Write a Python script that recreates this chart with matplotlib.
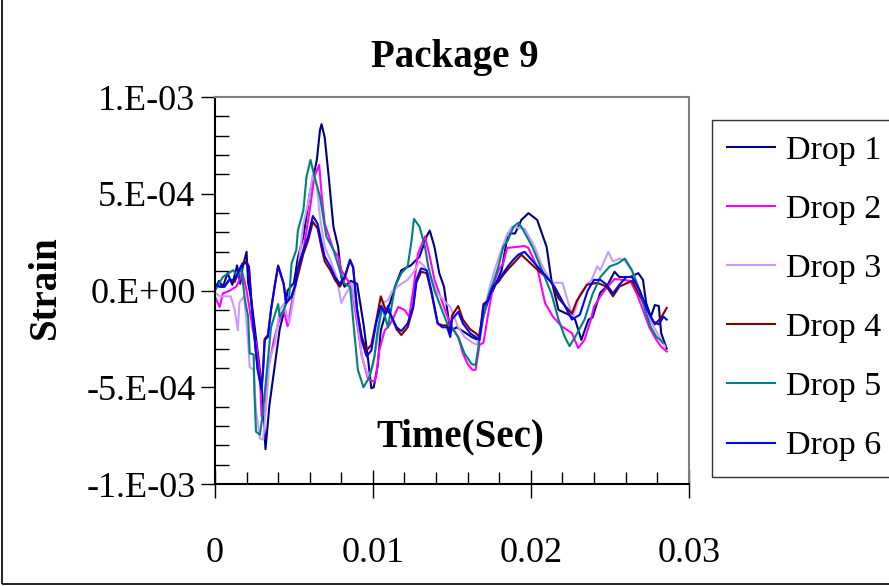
import numpy as np
import matplotlib
matplotlib.use('Agg')
import matplotlib.pyplot as plt
from matplotlib.ticker import MultipleLocator, FuncFormatter
from matplotlib.patches import Rectangle

# Time in milliseconds, strain in units of 1e-4
drop1_t = [0.0, 0.25, 0.5, 0.8, 1.1, 1.4, 1.6, 1.75, 2.0, 2.1, 2.3, 2.5, 2.8, 3.0, 3.2, 3.45, 3.8, 4.1, 4.4, 4.6,
           5.0, 5.25, 5.6, 6.0, 6.45, 6.65, 6.75, 6.95, 7.2, 7.5, 7.8, 8.0, 8.2, 8.6, 9.0, 9.4, 9.7, 9.9, 10.05, 10.3,
           10.5, 10.8, 11.1, 11.4, 11.8, 12.4, 12.95, 13.4, 13.6, 13.9, 14.2, 14.5, 14.9, 15.3, 15.7, 16.25, 16.65, 17.0, 17.3, 17.6,
           18.15, 18.55, 19.0, 19.4, 19.85, 20.4, 21.0, 21.3, 21.75, 22.4, 22.8, 23.2, 23.65, 23.9, 24.4, 24.8, 25.3, 25.6, 26.3, 26.8,
           27.1, 27.3, 27.6, 27.85, 28.1, 28.25, 28.6]
drop1_v = [0.0, 0.5, 0.2, 0.9, 0.3, 1.3, 0.35, 1.2, 2.0, 0.4, -0.5, -1.8, -3.8, -5.4, -8.2, -5.9, -3.8, -2.0, -1.0, 0.0,
           0.4, 1.7, 2.8, 5.0, 6.75, 8.3, 8.6, 7.9, 5.9, 3.3, 2.25, 0.7, 0.2, 0.5, 0.35, -1.7, -3.6, -5.05, -5.0, -3.9,
           -2.05, -1.2, -0.6, 0.2, 1.05, 1.3, 1.75, 2.8, 3.1, 2.25, 0.9, 0.2, -2.1, -1.9, -2.1, -2.4, -2.55, -1.3, -0.5, 0.0,
           1.05, 2.95, 2.95, 3.65, 4.0, 3.65, 2.25, 0.55, -1.0, -1.25, -1.5, -2.55, -1.5, -1.4, -0.1, 0.2, 0.97, 0.7, 0.7, 0.9,
           0.55, -0.65, -1.35, -0.75, -0.8, -2.2, -3.0]

drop2_t = [0.0, 0.1, 0.3, 0.5, 0.95, 1.35, 1.75, 2.0, 2.2, 2.4, 2.6, 2.85, 2.95, 3.2, 3.35, 3.7, 4.0, 4.35, 4.6, 4.85,
           5.2, 5.6, 6.0, 6.3, 6.6, 6.75, 6.95, 7.3, 7.5, 7.8, 8.0, 8.35, 8.65, 9.0, 9.3, 9.7, 10.1, 10.2, 10.4, 10.75,
           10.95, 11.25, 11.6, 12.0, 12.3, 12.55, 12.85, 13.2, 13.3, 13.6, 13.9, 14.2, 14.65, 15.0, 15.4, 15.7, 16.0, 16.3, 16.5, 16.75,
           17.0, 17.3, 17.6, 17.95, 18.25, 18.5, 19.6, 19.85, 20.4, 20.9, 21.4, 21.95, 22.6, 23.0, 23.4, 23.8, 24.0, 24.4, 24.8, 25.3,
           26.3, 26.7, 27.1, 27.5, 27.95, 28.25, 28.6]
drop2_v = [-0.3, -0.5, -0.85, -0.15, 0.0, 0.2, 0.9, 0.0, -1.0, -2.05, -2.7, -4.45, -6.5, -6.2, -4.1, -2.7, -1.7, -1.0, -1.85, -0.7,
           0.7, 2.1, 4.15, 5.9, 6.5, 5.0, 3.45, 2.6, 2.1, 1.75, 1.05, 0.6, 0.2, -1.7, -3.4, -4.6, -4.7, -4.45, -3.1, -2.05,
           -1.9, -1.5, -0.85, -1.0, -1.35, 0.0, 1.9, 2.6, 2.8, 1.75, 0.55, -0.15, -1.2, -1.9, -2.4, -3.25, -3.8, -4.1, -4.1, -2.8,
           -2.7, -1.2, 0.2, 1.05, 1.4, 2.2, 2.3, 2.2, 1.2, -0.65, -1.35, -1.85, -2.2, -2.97, -2.55, -1.5, -0.84, -0.3, 0.15, 0.6,
           0.5, -0.15, -1.0, -1.9, -2.55, -2.9, -3.15]

drop3_t = [0.0, 0.3, 0.7, 1.0, 1.25, 1.45, 1.55, 1.85, 2.1, 2.2, 2.45, 2.6, 2.85, 3.05, 3.3, 3.45, 3.8, 4.1, 4.35, 4.7,
           5.0, 5.25, 5.6, 5.9, 6.2, 6.45, 6.65, 6.95, 7.3, 7.7, 8.0, 8.2, 8.65, 9.0, 9.3, 9.7, 10.0, 10.3, 10.6, 10.95,
           11.25, 11.8, 12.2, 12.65, 12.95, 13.25, 13.7, 14.1, 14.65, 14.9, 15.4, 15.8, 16.3, 16.6, 17.0, 17.4, 17.7, 18.05, 18.45, 18.8,
           19.6, 20.25, 20.7, 21.3, 22.0, 22.45, 22.7, 23.1, 23.6, 23.85, 24.2, 24.4, 24.9, 25.2, 25.6, 25.95, 26.4, 26.8, 27.2, 27.6,
           28.0, 28.5]
drop3_v = [-0.1, -0.3, -0.3, -0.3, -1.0, -2.05, -0.6, -0.3, -2.7, -3.95, -4.1, -6.2, -7.65, -7.7, -5.3, -3.6, -2.7, -1.0, -0.7, -1.7,
           -0.3, 1.05, 3.45, 4.5, 6.0, 5.4, 3.8, 2.25, 1.6, 0.7, -0.65, -0.3, 0.35, -1.35, -3.4, -4.45, -3.9, -2.4, -0.65, -0.5,
           0.0, 0.35, 0.55, 1.05, 1.5, 1.25, 0.55, -0.15, -0.65, -0.85, -1.9, -2.4, -2.7, -2.8, -1.3, 0.2, 1.05, 1.9, 2.8, 3.3,
           3.2, 2.25, 1.3, 0.4, 0.4, -0.85, -1.3, -0.2, 0.35, 0.55, 1.25, 1.05, 2.0, 1.5, 1.65, 1.55, 1.0, 0.2, -0.9, -1.6,
           -2.2, -2.9]

drop4_t = [0.0, 0.3, 0.6, 0.9, 1.25, 1.45, 1.75, 2.0, 2.15, 2.3, 2.5, 2.7, 2.95, 3.05, 3.15, 3.35, 3.55, 3.8, 4.0, 4.35,
           4.5, 4.85, 5.1, 5.6, 5.9, 6.2, 6.5, 6.75, 6.95, 7.3, 7.6, 7.9, 8.2, 8.55, 8.75, 9.0, 9.3, 9.6, 9.9, 10.2,
           10.5, 10.8, 11.1, 11.5, 11.8, 12.2, 12.55, 12.75, 13.05, 13.4, 13.7, 14.1, 14.4, 14.7, 14.9, 15.0, 15.4, 15.7, 16.15, 16.5,
           16.75, 17.0, 17.3, 17.6, 17.95, 18.25, 18.55, 18.9, 19.4, 20.25, 21.3, 21.75, 22.6, 22.9, 23.55, 24.2, 24.8, 25.2, 25.6, 26.4,
           27.3, 27.85, 28.25, 28.6]
drop4_v = [0.3, 0.2, 0.2, 0.55, 0.45, 0.9, 1.4, 1.5, 1.2, -0.5, -2.4, -4.0, -5.0, -4.0, -2.5, -2.3, -1.0, 0.3, 1.3, 0.35,
           -0.6, -0.35, 0.3, 1.9, 2.6, 3.55, 3.2, 2.2, 1.5, 1.05, 0.55, 0.2, 0.6, 1.6, 1.2, -1.0, -2.4, -3.1, -2.8, -1.6,
           -0.3, -1.0, -1.2, -2.0, -2.3, -1.9, -0.9, 0.4, 0.97, 0.9, -0.1, -1.7, -1.8, -1.8, -2.2, -1.3, -0.8, -1.5, -2.0, -2.2,
           -2.4, -0.7, -0.5, 0.2, 0.45, 0.8, 1.1, 1.4, 1.85, 1.2, 0.45, -0.4, -1.2, -0.55, 0.3, 0.4, 0.2, -0.3, 0.2, 0.5,
           -0.9, -1.75, -1.4, -0.9]

drop5_t = [0.0, 0.5, 1.15, 1.45, 1.65, 1.9, 2.1, 2.2, 2.45, 2.5, 2.6, 2.85, 3.05, 3.25, 3.55, 4.0, 4.1, 4.35, 4.7, 4.85,
           5.15, 5.25, 5.6, 5.8, 6.05, 6.3, 6.65, 7.05, 7.5, 7.9, 8.2, 8.55, 8.85, 9.05, 9.4, 9.8, 10.1, 10.3, 10.6, 10.95,
           11.4, 11.8, 12.2, 12.45, 12.6, 12.95, 13.3, 13.5, 13.9, 14.3, 14.7, 15.0, 15.4, 15.8, 16.25, 16.5, 16.75, 17.0, 17.3, 17.6,
           17.95, 18.25, 18.55, 18.9, 19.2, 19.4, 20.1, 20.7, 21.3, 21.75, 22.15, 22.45, 22.8, 23.4, 23.9, 24.4, 25.0, 25.5, 25.95, 26.4,
           26.7, 27.0, 27.3, 27.6, 27.95, 28.2, 28.35]
drop5_v = [0.0, 0.7, 1.05, 0.7, 1.25, -0.5, -1.35, -3.25, -3.3, -5.3, -7.3, -7.45, -6.2, -4.45, -1.9, -0.7, -1.35, -1.0, -0.3, 1.4,
           2.1, 3.1, 4.15, 5.9, 6.75, 5.9, 4.85, 2.8, 2.1, 1.05, 0.35, 0.2, -2.4, -4.1, -5.0, -4.45, -3.4, -2.05, -0.85, -1.9,
           0.2, 0.9, 1.25, 2.6, 3.7, 3.3, 2.25, 1.25, 0.0, -0.85, -1.7, -1.9, -2.4, -3.25, -3.8, -3.85, -2.55, -1.35, -0.3, 0.35,
           1.25, 2.25, 2.6, 3.3, 3.5, 3.3, 2.25, 1.05, -0.15, -1.5, -2.4, -2.87, -2.4, -1.5, -0.2, 0.7, 1.25, 1.4, 1.65, 1.05,
           0.4, -0.3, -1.2, -1.9, -2.4, -2.55, -2.7]

drop6_t = [0.0, 0.3, 0.6, 0.9, 1.25, 1.45, 1.75, 2.0, 2.15, 2.3, 2.5, 2.7, 2.95, 3.05, 3.15, 3.35, 3.55, 3.8, 4.0, 4.35,
           4.5, 4.85, 5.1, 5.2, 5.6, 5.9, 6.2, 6.5, 6.75, 6.95, 7.3, 7.6, 7.9, 8.2, 8.55, 8.75, 9.0, 9.3, 9.6, 9.9,
           10.2, 10.5, 10.8, 10.95, 11.1, 11.5, 11.8, 12.2, 12.55, 12.75, 13.05, 13.4, 13.7, 14.1, 14.4, 14.7, 14.9, 15.0, 15.4, 15.7,
           16.15, 16.5, 16.75, 17.0, 17.3, 17.6, 17.95, 18.25, 18.55, 18.9, 19.2, 19.6, 20.25, 20.9, 21.5, 21.9, 22.6, 23.1, 23.6, 24.0,
           24.4, 24.8, 25.2, 25.6, 26.05, 26.4, 26.9, 27.3, 27.75, 28.1, 28.4, 28.6]
drop6_v = [0.35, 0.2, 0.2, 0.55, 0.55, 0.9, 1.4, 1.4, 1.25, -0.5, -2.4, -4.1, -5.15, -4.1, -2.55, -2.4, -1.0, 0.35, 1.25, 0.35,
           -0.65, -0.3, 0.35, 1.05, 2.1, 2.8, 3.85, 3.45, 2.45, 1.75, 1.25, 0.7, 0.35, 0.7, 1.55, 1.2, -1.0, -2.6, -3.4, -3.1,
           -1.7, -0.8, -1.2, -0.8, -1.2, -1.9, -2.1, -1.7, -0.8, 0.55, 1.15, 1.05, 0.0, -1.7, -1.9, -1.9, -2.4, -1.5, -1.1, -1.7,
           -2.2, -2.4, -2.55, -0.8, -0.5, 0.2, 0.55, 0.9, 1.25, 1.6, 1.85, 2.0, 1.4, 0.8, 0.2, -0.4, -1.5, -1.25, 0.0, 0.55,
           0.55, 0.3, -0.15, 0.3, 0.7, 0.7, 0.0, -0.85, -1.6, -1.75, -1.35, -1.5]

series = [
    ('Drop 1', drop1_t, drop1_v, '#000080'),
    ('Drop 2', drop2_t, drop2_v, '#FF00FF'),
    ('Drop 3', drop3_t, drop3_v, '#CC99FF'),
    ('Drop 4', drop4_t, drop4_v, '#800000'),
    ('Drop 5', drop5_t, drop5_v, '#008080'),
    ('Drop 6', drop6_t, drop6_v, '#0000FF'),
]

plt.rcParams['font.family'] = 'Liberation Serif'

fig = plt.figure(figsize=(8.89, 5.86), dpi=100)
ax = fig.add_axes([0.2418, 0.174, 0.533, 0.6604])

for label, t, v, color in series:
    ax.plot(np.array(t) * 1e-3, np.array(v) * 1e-4, color=color, linewidth=1.5, label=label)

ax.set_xlim(0, 0.03)
ax.set_ylim(-1e-3, 1e-3)

# Excel-like ticks
ax.xaxis.set_major_locator(MultipleLocator(0.01))
ax.xaxis.set_minor_locator(MultipleLocator(0.002))
ax.yaxis.set_major_locator(MultipleLocator(5e-4))
ax.yaxis.set_minor_locator(MultipleLocator(1e-4))
ax.xaxis.set_major_formatter(FuncFormatter(lambda x, pos: '0' if abs(x) < 1e-12 else f'{x:g}'))
ax.yaxis.set_major_formatter(FuncFormatter(lambda y, pos: format(0.0 if abs(y) < 1e-12 else y, '#.0E')))

ax.tick_params(axis='x', which='major', direction='inout', length=20, width=1, pad=28, labelsize=26)
ax.tick_params(axis='x', which='minor', direction='in', length=9, width=1)
ax.tick_params(axis='y', which='major', direction='out', length=10, width=1, pad=4, labelsize=26)
ax.tick_params(axis='y', which='minor', direction='in', length=10, width=1)

ax.spines['left'].set_linewidth(1.5)
ax.spines['bottom'].set_linewidth(1.5)
ax.spines['top'].set_color('#808080')
ax.spines['right'].set_color('#808080')
ax.spines['top'].set_linewidth(1.5)
ax.spines['right'].set_linewidth(1.5)

ax.text(0.517, 0.121, 'Time(Sec)', transform=ax.transAxes, ha='center', va='center',
        fontsize=28, fontweight='bold')
fig.text(45 / 889, 1 - 287 / 586, 'Strain', rotation=90, ha='center', va='center',
         fontsize=28, fontweight='bold')
fig.text(455 / 889, 1 - 57 / 586, 'Package 9', ha='center', va='center',
         fontsize=28, fontweight='bold')

leg = fig.legend(loc='upper left', bbox_to_anchor=(712 / 889, 1 - 120 / 586), fontsize=24.5,
                 frameon=True, fancybox=False, edgecolor='black', handlelength=1.4,
                 handletextpad=0.32, labelspacing=0.83, borderpad=0.45, borderaxespad=0)
leg.get_frame().set_linewidth(1.0)
for line in leg.get_lines():
    line.set_linewidth(1.5)

# chart area border
fig.patches.append(Rectangle((0.002, 0.004), 1.2, 1.2, transform=fig.transFigure,
                             fill=False, edgecolor='black', linewidth=1.2))

fig.savefig('out.png', dpi=100)
